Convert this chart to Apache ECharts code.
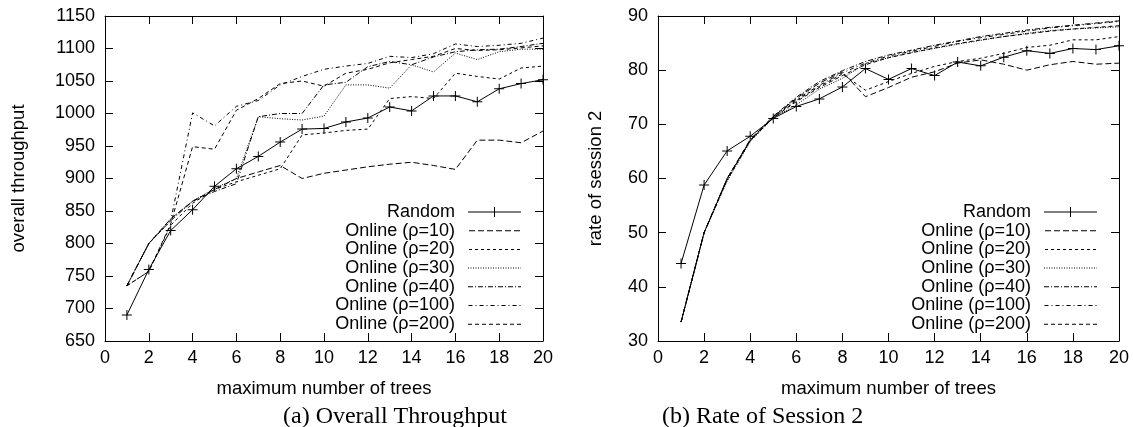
<!DOCTYPE html>
<html>
<head>
<meta charset="utf-8">
<script src="https://cdn.jsdelivr.net/npm/echarts@6/dist/echarts.min.js"></script>
<style>
html,body{margin:0;padding:0;background:#fff;}
#chart{width:1133px;height:427px;}
</style>
</head>
<body>
<div id="chart"></div>
<script>
// ---- data ----
const xVals = [1,2,3,4,5,6,7,8,9,10,11,12,13,14,15,16,17,18,19,20];
const seriesNames = ['Random','Online (ρ=10)','Online (ρ=20)','Online (ρ=30)','Online (ρ=40)','Online (ρ=100)','Online (ρ=200)'];

// (a) overall throughput
const thrRandom = [690,760,820,852,888,915,934,956,976,977,987,993,1010,1004,1027,1027,1018,1038,1046,1052];
const thrRho10  = [735,800,838,865,883,900,910,920,900,908,913,918,922,925,920,914,959,959,955,973];
const thrRho20  = [735,757,828,862,883,895,905,915,967,970,974,976,1023,1026,1023,1062,1057,1053,1070,1073];
const thrRho30  = [735,800,838,865,885,900,995,992,990,996,1044,1044,1039,1075,1064,1093,1083,1095,1099,1099];
const thrRho40  = [735,800,835,865,880,892,995,1000,1000,1044,1048,1072,1080,1075,1087,1095,1098,1099,1103,1108];
const thrRho100 = [735,800,835,1001,981,1011,1020,1044,1057,1068,1073,1077,1088,1086,1092,1107,1103,1105,1108,1116];
const thrRho200 = [735,757,830,949,945,1005,1023,1046,1050,1042,1062,1068,1078,1083,1088,1100,1097,1098,1101,1104];

// (b) rate of session 2
const rateRandom = [44.3,58.8,65.1,67.8,71.1,73.3,74.7,76.9,80.3,78.3,80.3,79.0,81.5,80.8,82.4,83.6,83.1,84.0,83.8,84.5];
const rateRho10  = [33.5,50.0,60.0,67.1,71.4,74.8,77.6,79.7,75.1,76.8,78.7,79.7,81.3,81.9,81.1,80.0,81.0,81.6,81.1,81.3];
const rateRho20  = [33.5,50.0,59.7,67.0,71.2,74.4,77.0,79.3,76.3,77.9,79.4,80.7,81.6,82.2,83.1,84.2,84.6,85.6,85.6,86.2];
const rateRho30  = [33.5,50.0,59.5,66.8,71.2,73.6,76.5,78.5,81.2,82.3,83.3,84.0,84.8,85.5,86.2,86.8,87.3,87.6,87.8,88.0];
const rateRho40  = [33.5,50.0,60.0,67.2,71.5,75.0,77.9,79.9,81.6,82.8,83.7,84.6,85.4,86.2,86.8,87.4,87.9,88.3,88.7,89.1];
const rateRho100 = [33.5,50.0,60.0,67.0,71.3,74.6,77.2,79.5,81.3,82.6,83.5,84.4,85.3,86.0,86.6,87.2,87.8,88.2,88.6,89.0];
const rateRho200 = [33.5,50.0,59.8,67.0,71.2,74.2,76.8,79.0,81.0,82.3,83.2,84.1,84.9,85.6,86.2,86.7,87.2,87.6,87.9,88.2];

const thrSets  = [thrRandom,thrRho10,thrRho20,thrRho30,thrRho40,thrRho100,thrRho200];
const rateSets = [rateRandom,rateRho10,rateRho20,rateRho30,rateRho40,rateRho100,rateRho200];

// ---- styles ----
const dashTypes = ['solid',[6,3],[3,3],[1,1.5],[5,2,1,2],[4,3,1,3],[4,3]];
const FONT = '"Liberation Sans", Arial, sans-serif';
const SERIF = '"Liberation Serif", "Times New Roman", serif';
const plusPath = 'path://M4.5,0H5.5V4.5H10V5.5H5.5V10H4.5V5.5H0V4.5H4.5Z';
const ICON_W = 53, ICON_H = 10;

// legend icon shapes (filled paths in a 53x10 box)
function iconPath(dash, withPlus) {
  let p = 'path://M0,0H0.01V10H0Z';
  if (dash === 'solid') {
    if (withPlus) {
      p += 'M0,4.5H26V0H27V4.5H53V5.5H27V10H26V5.5H0Z';
    } else {
      p += 'M0,4.5H53V5.5H0Z';
    }
    return p;
  }
  let x = 0, k = 0;
  while (x < ICON_W) {
    const len = dash[k % dash.length];
    if (k % 2 === 0) {
      const e = Math.min(ICON_W, x + len);
      p += 'M' + x.toFixed(2) + ',4.5H' + e.toFixed(2) + 'V5.5H' + x.toFixed(2) + 'Z';
    }
    x += len; k++;
  }
  return p;
}

function mkSeries(sets, xi, yi) {
  return sets.map((vals, i) => ({
    name: seriesNames[i],
    type: 'line',
    xAxisIndex: xi,
    yAxisIndex: yi,
    data: xVals.map((x, k) => [x, vals[k]]),
    symbol: i === 0 ? plusPath : 'none',
    symbolSize: 10,
    showSymbol: i === 0,
    itemStyle: {color: '#000'},
    lineStyle: {color: '#000', width: 1, type: dashTypes[i], cap: 'butt'},
    emphasis: {disabled: true},
    z: 10 - i
  }));
}

const axisCommon = {
  axisLine: {show: true, onZero: false, lineStyle: {color: '#000', width: 1}},
  axisTick: {show: true, inside: true, length: 8, lineStyle: {color: '#000', width: 1}},
  splitLine: {show: false}
};
function xAx(grid, pos, labels, name) {
  return Object.assign({}, axisCommon, {
    type: 'value', gridIndex: grid, position: pos, min: 0, max: 20, interval: 2,
    axisLabel: {show: labels, margin: 8, color: '#000', fontFamily: FONT, fontSize: 18,
                formatter: v => String(v)},
    name: name || '', nameLocation: 'middle', nameGap: 38,
    nameTextStyle: {color: '#000', fontFamily: FONT, fontSize: 18.5}
  });
}
function yAx(grid, pos, labels, min, max, iv, name, gap) {
  return Object.assign({}, axisCommon, {
    type: 'value', gridIndex: grid, position: pos, min: min, max: max, interval: iv,
    axisLabel: {show: labels, margin: 10, color: '#000', fontFamily: FONT, fontSize: 18,
                formatter: v => String(v)},
    name: name || '', nameLocation: 'middle', nameGap: gap || 0,
    nameTextStyle: {color: '#000', fontFamily: FONT, fontSize: 18.5}
  });
}
function legend(rightPx) {
  return {
    data: seriesNames.map((n, i) => ({name: n, icon: iconPath(dashTypes[i], i === 0)})),
    orient: 'vertical', align: 'right',
    right: rightPx, top: 203, padding: 0,
    itemWidth: ICON_W, itemHeight: ICON_H, itemGap: 0.7,
    selectedMode: false,
    itemStyle: {color: '#000', borderWidth: 0},
    textStyle: {color: '#000', fontFamily: FONT, fontSize: 18, lineHeight: 18, padding: [0, 8, 0, 0]}
  };
}

const chart = echarts.init(document.getElementById('chart'), null, {renderer: 'canvas'});
chart.setOption({
  animation: false,
  backgroundColor: '#fff',
  grid: [
    {left: 105, right: 590, top: 16, bottom: 86},
    {left: 658, right: 14, top: 16, bottom: 86}
  ],
  xAxis: [
    xAx(0, 'bottom', true, 'maximum number of trees'),
    xAx(0, 'top', false),
    xAx(1, 'bottom', true, 'maximum number of trees'),
    xAx(1, 'top', false)
  ],
  yAxis: [
    yAx(0, 'left', true, 650, 1150, 50, 'overall throughput', 77),
    yAx(0, 'right', false, 650, 1150, 50),
    yAx(1, 'left', true, 30, 90, 10, 'rate of session 2', 53),
    yAx(1, 'right', false, 30, 90, 10)
  ],
  legend: [legend(612), legend(36)],
  series: mkSeries(thrSets, 0, 0).concat(mkSeries(rateSets, 2, 2)),
  graphic: [
    {type: 'text', left: 395 - 112, top: 405, style: {text: '(a) Overall Throughput', font: '24px ' + SERIF, fill: '#000'}},
    {type: 'text', left: 763 - 101, top: 405, style: {text: '(b) Rate of Session 2', font: '24px ' + SERIF, fill: '#000'}}
  ]
});
</script>
</body>
</html>
